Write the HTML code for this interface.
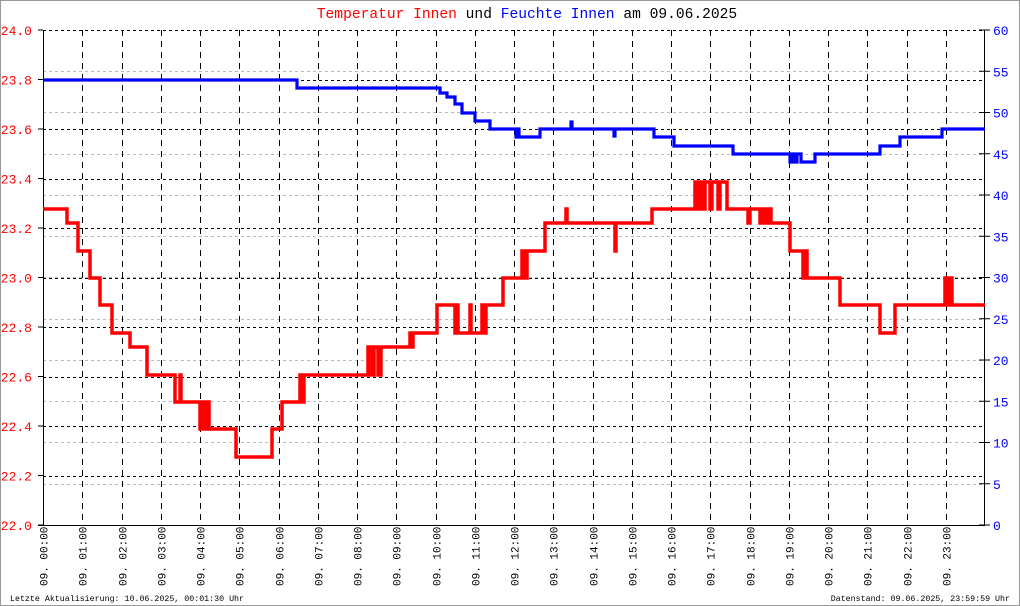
<!DOCTYPE html>
<html><head><meta charset="utf-8"><style>
html,body{margin:0;padding:0;background:#fff}
svg{display:block}
text{font-family:"Liberation Mono","DejaVu Sans Mono",monospace}
</style></head><body>
<svg width="1020" height="606" viewBox="0 0 1020 606" xmlns="http://www.w3.org/2000/svg">
<rect x="0.5" y="0.5" width="1019" height="605" fill="#fff" stroke="#999"/>
<text x="527" y="18" font-size="14.6" text-anchor="middle"><tspan fill="#f00">Temperatur Innen</tspan><tspan fill="#000"> und </tspan><tspan fill="#00f">Feuchte Innen</tspan><tspan fill="#000"> am 09.06.2025</tspan></text>
<g stroke="#bbb" stroke-dasharray="3,3" stroke-width="1">
<line x1="43" x2="985" y1="71.5" y2="71.5"/><line x1="43" x2="985" y1="112.5" y2="112.5"/><line x1="43" x2="985" y1="154.5" y2="154.5"/>
<line x1="43" x2="985" y1="195.5" y2="195.5"/><line x1="43" x2="985" y1="236.5" y2="236.5"/><line x1="43" x2="985" y1="277.5" y2="277.5"/>
<line x1="43" x2="985" y1="319.5" y2="319.5"/><line x1="43" x2="985" y1="360.5" y2="360.5"/><line x1="43" x2="985" y1="401.5" y2="401.5"/>
<line x1="43" x2="985" y1="442.5" y2="442.5"/><line x1="43" x2="985" y1="484.5" y2="484.5"/>
</g>
<g stroke="#000" stroke-dasharray="3,3" stroke-width="1">
<line x1="43" x2="985" y1="30.5" y2="30.5"/><line x1="43" x2="985" y1="80.5" y2="80.5"/><line x1="43" x2="985" y1="129.5" y2="129.5"/>
<line x1="43" x2="985" y1="179.5" y2="179.5"/><line x1="43" x2="985" y1="228.5" y2="228.5"/><line x1="43" x2="985" y1="278.5" y2="278.5"/>
<line x1="43" x2="985" y1="327.5" y2="327.5"/><line x1="43" x2="985" y1="377.5" y2="377.5"/><line x1="43" x2="985" y1="426.5" y2="426.5"/>
<line x1="43" x2="985" y1="476.5" y2="476.5"/>
</g>
<g stroke="#000" stroke-dasharray="6,5" stroke-width="1" id="vg"></g>
<g stroke="#000" stroke-width="1">
<line x1="43.5" y1="30" x2="43.5" y2="526"/>
<line x1="984.5" y1="30" x2="984.5" y2="526"/>
<line x1="38" y1="525.5" x2="985" y2="525.5"/>
</g>
<g fill="#f00" font-size="13" text-anchor="end" id="ly"></g>
<g fill="#00f" font-size="13" id="ry"></g>
<g fill="#000" font-size="11" id="xl"></g>
<polyline fill="none" stroke="#00f" stroke-width="3.2" points="43,80 297,80 297,88 440,88 440,93 447,93 447,97 455,97 455,104 462,104 462,113 475,113 475,121 490,121 490,129 516,129 516,137 517,137 517,129 519,129 519,137 540,137 540,129 571,129 571,122 572,122 572,129 614,129 614,136 615,136 615,129 654,129 654,137 674,137 674,146 733,146 733,154 790,154 790,162 792,162 792,154 795,154 795,162 797,162 797,154 801,154 801,162 815,162 815,154 880,154 880,146 900,146 900,137 942,137 942,129 985,129"/>
<polyline fill="none" stroke="#f00" stroke-width="3.5" points="43,209 67,209 67,223 78,223 78,251 90,251 90,278 100,278 100,305 112,305 112,333 130,333 130,347 147,347 147,375 175,375 175,402 180,402 180,375 181,375 181,402 200,402 200,429 202,429 202,402 204,402 204,429 207,429 207,402 209,402 209,429 236,429 236,457 272,457 272,429 282,429 282,402 300,402 300,375 302,375 302,402 304,402 304,375 368,375 368,347 371,347 371,375 374,375 374,347 378,347 378,375 381,375 381,347 410,347 410,333 411,333 411,347 413,347 413,333 437,333 437,305 455,305 455,333 456,333 456,305 458,305 458,333 470,333 470,305 471,305 471,333 482,333 482,305 484,305 484,333 486,333 486,305 503,305 503,278 522,278 522,251 524,251 524,278 527,278 527,251 545,251 545,223 566,223 566,209 567,209 567,223 615,223 615,251 616,251 616,223 652,223 652,209 695,209 695,182 697,182 697,209 700,209 700,182 703,182 703,209 705,209 705,182 710,182 710,209 712,209 712,182 718,182 718,209 720,209 720,182 727,182 727,209 748,209 748,223 750,223 750,209 760,209 760,223 763,223 763,209 766,209 766,223 769,223 769,209 771,209 771,223 790,223 790,251 803,251 803,278 805,278 805,251 807,251 807,278 840,278 840,305 880,305 880,333 895,333 895,305 945,305 945,278 947,278 947,305 950,305 950,278 952,278 952,305 985,305"/>
<text x="10" y="601" font-size="8.3" fill="#000">Letzte Aktualisierung: 10.06.2025, 00:01:30 Uhr</text>
<text x="1010" y="601" font-size="8.3" fill="#000" text-anchor="end">Datenstand: 09.06.2025, 23:59:59 Uhr</text>
<script>
var ns="http://www.w3.org/2000/svg";
function el(p,n,a,t){var e=document.createElementNS(ns,n);for(var k in a)e.setAttribute(k,a[k]);if(t)e.textContent=t;document.getElementById(p).appendChild(e);}
for(var h=0;h<24;h++){var x=Math.round(43+h*39.25)+0.5;
if(h>0)el("vg","line",{x1:x,x2:x,y1:30,y2:525});
var hh=(h<10?"0":"")+h;
el("xl","text",{x:0,y:0,transform:"translate("+(x+4)+",586) rotate(-90)"},"09. "+hh+":00");}
for(var i=0;i<=10;i++){var y=525-i*49.5;el("ly","text",{x:32,y:y+5},(22+i*0.2).toFixed(1));el("ly","line",{x1:38,x2:43,y1:y,y2:y,stroke:"#000"});}
for(var j=0;j<=12;j++){var y=525-j*41.25;el("ry","text",{x:993,y:y+5},String(j*5));el("ry","line",{x1:979,x2:990,y1:y,y2:y,stroke:"#000"});}
</script>
</svg>
</body></html>
